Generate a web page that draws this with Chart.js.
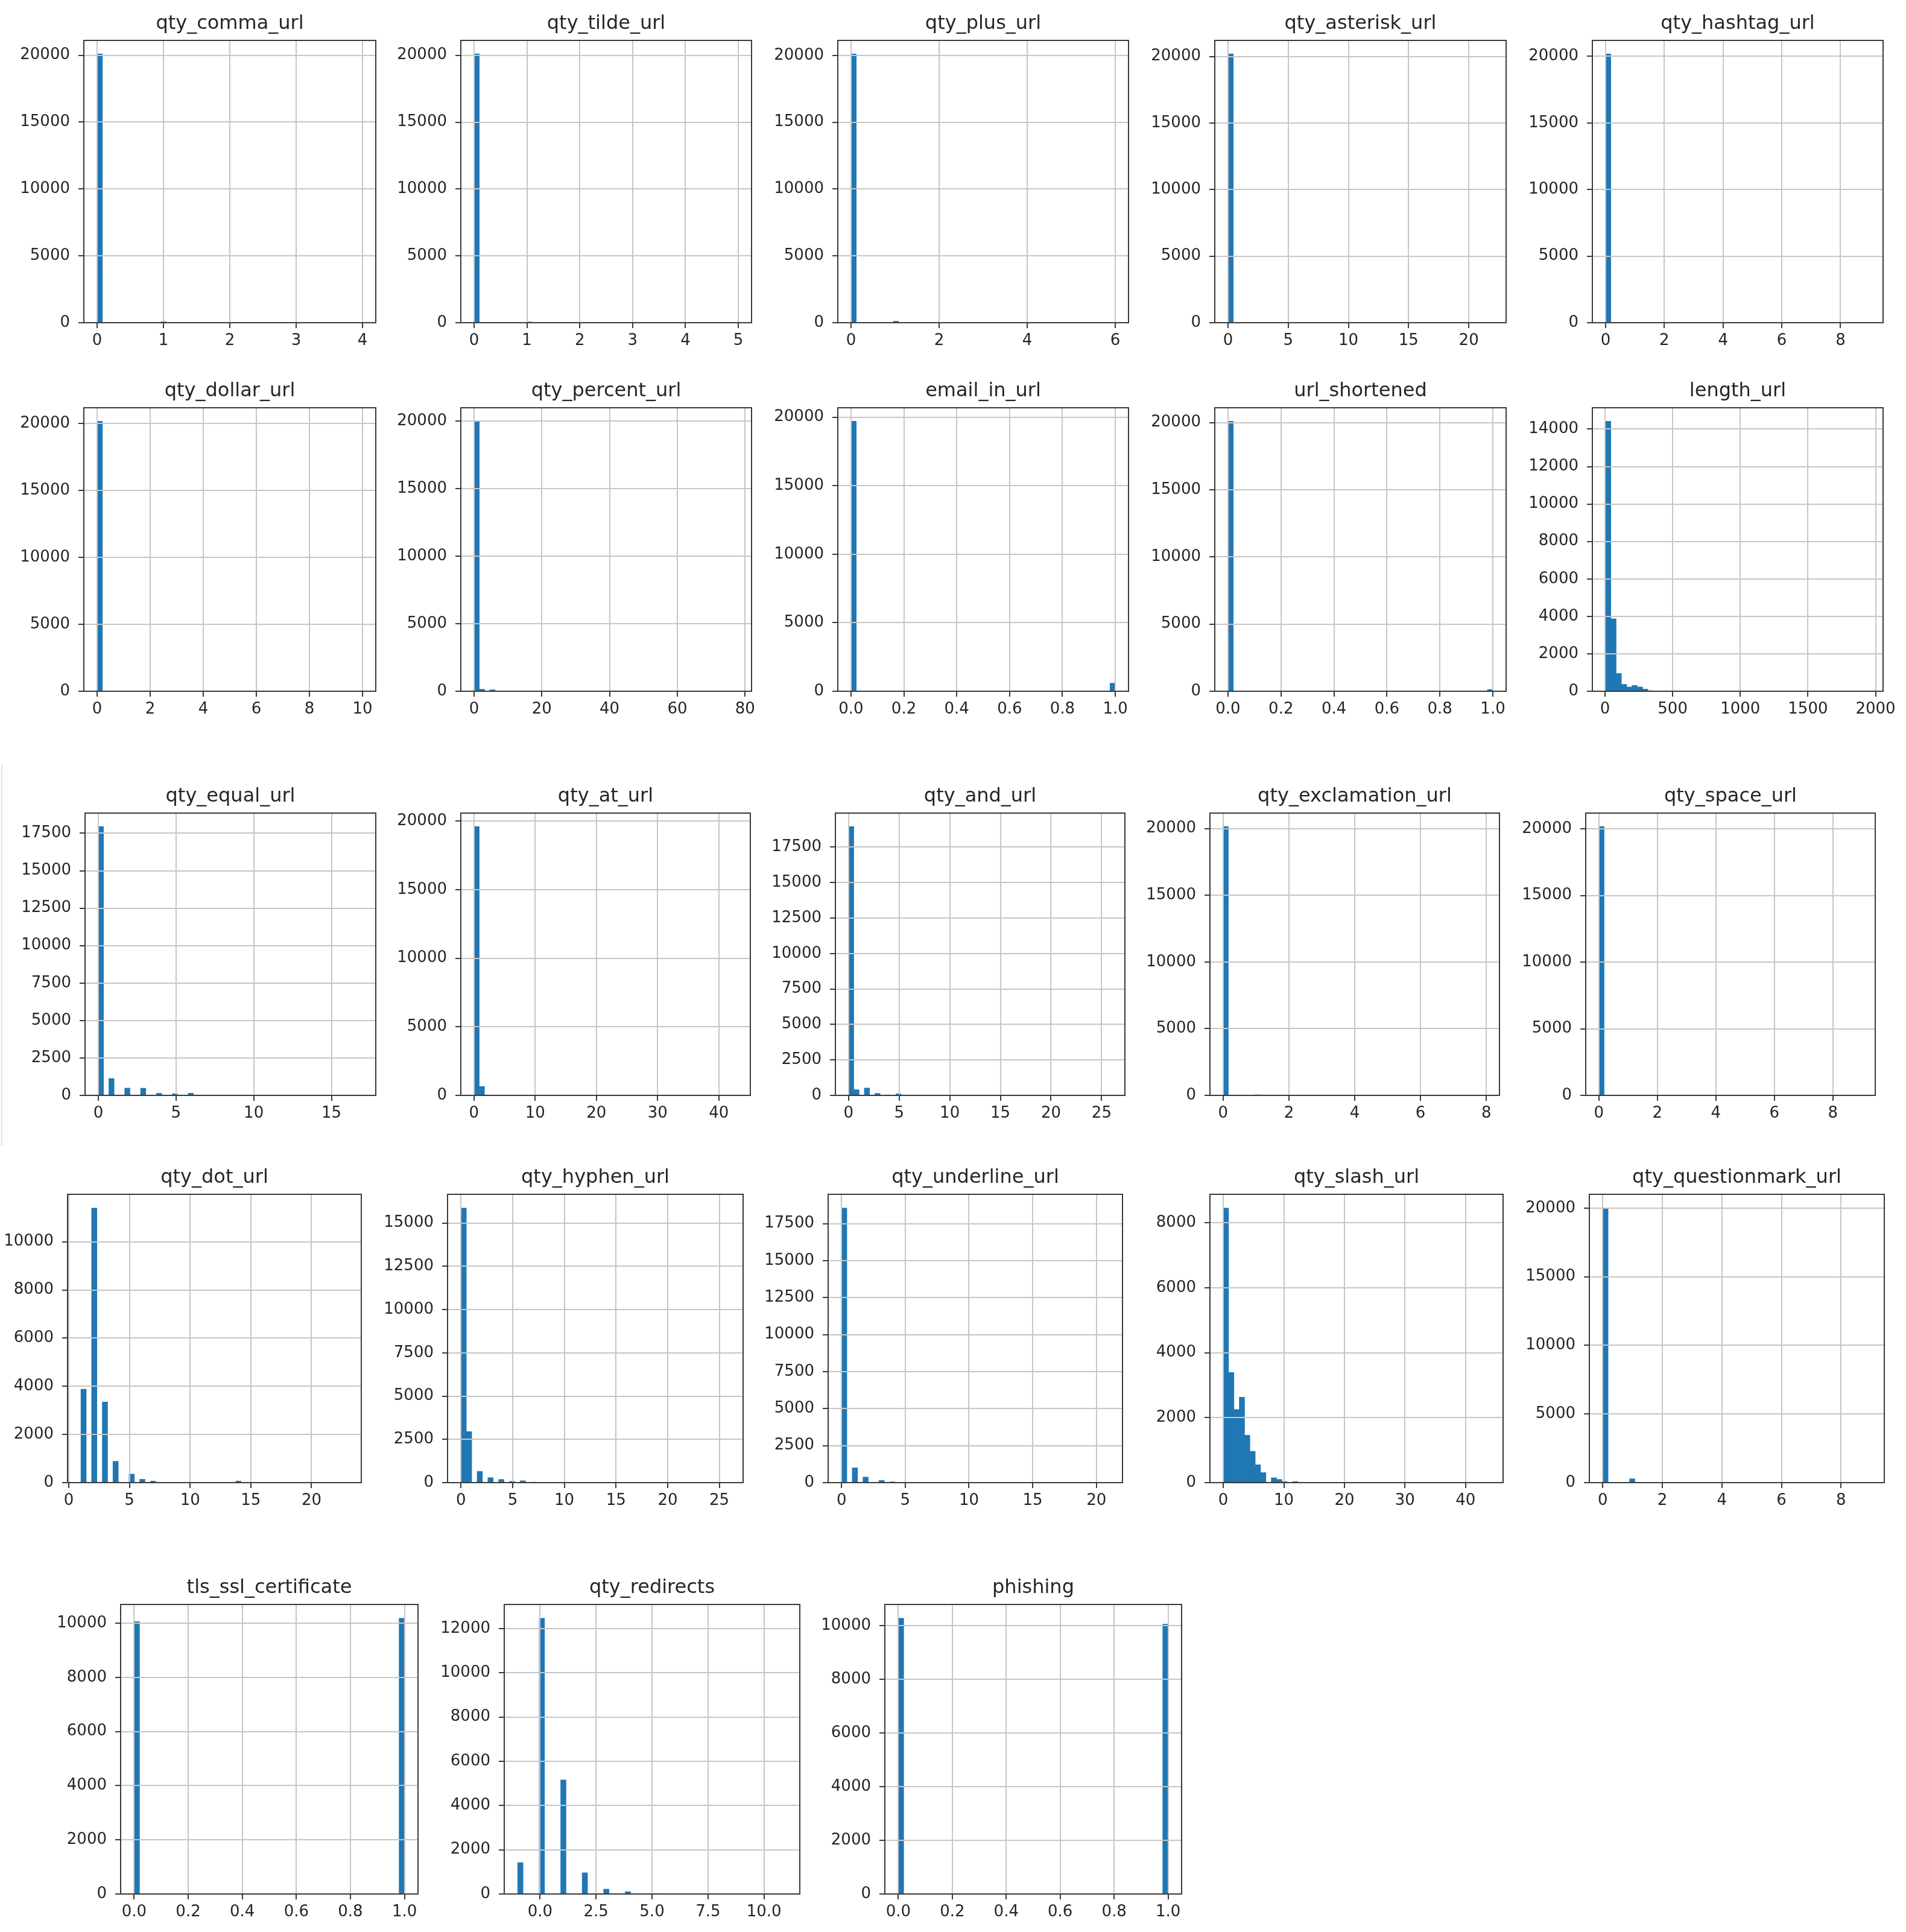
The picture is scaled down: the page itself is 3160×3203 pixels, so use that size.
<!DOCTYPE html>
<html>
<head>
<meta charset="utf-8">
<script src="https://cdn.jsdelivr.net/npm/chart.js@4.4.1/dist/chart.umd.min.js"></script>
<style>
html,body{margin:0;padding:0;background:#fff;}
#page{position:relative;width:3160px;height:3203px;background:#fff;overflow:hidden;}
#page canvas{position:absolute;}
.edge{position:absolute;background:#e2e2e2;}
</style>
</head>
<body>
<div id="page"><div class="edge" style="left:2px;top:1268px;width:2px;height:632px;"></div></div>
<script>
// ---------- DATA ----------
const titles = [
  'qty_comma_url','qty_tilde_url','qty_plus_url','qty_asterisk_url','qty_hashtag_url',
  'qty_dollar_url','qty_percent_url','email_in_url','url_shortened','length_url',
  'qty_equal_url','qty_at_url','qty_and_url','qty_exclamation_url','qty_space_url',
  'qty_dot_url','qty_hyphen_url','qty_underline_url','qty_slash_url','qty_questionmark_url',
  'tls_ssl_certificate','qty_redirects','phishing'
];
// data range (min, max) of each variable -> 50 equal histogram bins
const binMin = [0,0,0,0,0, 0,0,0,0,4, 0,0,0,0,0, 1,0,0,0,0, 0,-1,0];
const binMax = [4,5,6,22,9, 10,78,1,1,1958, 17,43,26,8,9, 23,26,21,44,9, 1,11,1];

// bin counts (50 bins each)
const countsComma = [20100,0,0,0,0,0,0,0,0,0, 0,0,95,0,0,0,0,0,0,0, 0,0,0,0,0,12,0,0,0,0, 0,0,0,0,0,0,0,4,0,0, 0,0,0,0,0,0,0,0,0,2];
const countsTilde = [20110,0,0,0,0,0,0,0,0,0, 75,0,0,0,0,0,0,0,0,0, 8,0,0,0,0,0,0,0,0,0, 3,0,0,0,0,0,0,0,0,0, 1,0,0,0,0,0,0,0,0,1];
const countsPlus = [20120,0,0,0,0,0,0,0,110,0, 0,0,0,0,0,0,20,0,0,0, 0,0,0,0,0,6,0,0,0,0, 0,0,0,3,0,0,0,0,0,0, 0,1,0,0,0,0,0,0,0,1];
const countsAsterisk = [20200,0,25,0,6,0,2,0,0,0, 0,0,0,0,0,0,0,0,0,0, 0,0,0,0,0,0,0,0,0,0, 0,0,0,0,0,0,0,0,0,0, 0,0,0,0,0,0,0,0,0,1];
const countsHashtag = [20190,0,0,0,0,40,0,0,0,0, 0,5,0,0,0,0,0,0,0,0, 0,0,0,0,0,0,0,0,0,0, 0,0,0,0,0,0,0,0,0,0, 0,0,0,0,0,0,0,0,0,1];
const countsDollar = [20180,0,0,0,0,45,0,0,0,0, 8,0,0,0,0,0,0,0,0,0, 0,0,0,0,0,0,0,0,0,0, 0,0,0,0,0,0,0,0,0,0, 0,0,0,0,0,0,0,0,0,1];
const countsPercent = [19980,150,30,110,35,20,15,10,6,5, 4,3,3,2,2,1,1,1,0,1, 0,1,0,0,1,0,0,0,0,0, 0,0,0,0,0,0,0,0,0,0, 0,0,0,0,0,0,0,0,0,1];
const countsEmail = [19700,0,0,0,0,0,0,0,0,0, 0,0,0,0,0,0,0,0,0,0, 0,0,0,0,0,0,0,0,0,0, 0,0,0,0,0,0,0,0,0,0, 0,0,0,0,0,0,0,0,0,590];
const countsShortened = [20100,0,0,0,0,0,0,0,0,0, 0,0,0,0,0,0,0,0,0,0, 0,0,0,0,0,0,0,0,0,0, 0,0,0,0,0,0,0,0,0,0, 0,0,0,0,0,0,0,0,0,130];
const countsLength = [14420,3870,950,370,230,310,230,115,40,20, 12,8,6,5,4,3,3,2,2,2, 1,1,1,1,1,1,0,1,0,0, 1,0,0,0,0,0,1,0,0,0, 0,0,0,0,0,0,0,0,0,1];
const countsEqual = [17950,0,1130,0,0,490,0,0,480,0, 0,140,0,0,110,0,0,150,0,0, 40,0,0,20,0,0,12,0,0,8, 0,0,5,0,0,3,0,0,2,0, 0,1,0,0,1,0,0,1,0,1];
const countsAt = [19600,650,40,10,5,0,0,0,0,0, 0,0,0,0,0,0,0,0,0,0, 0,0,0,0,0,0,0,0,0,0, 0,0,0,0,0,0,0,0,0,0, 0,0,0,0,0,0,0,0,0,1];
const countsAnd = [18950,400,0,520,0,140,0,50,0,110, 0,30,0,20,0,15,0,10,0,8, 0,5,0,4,0,3,2,0,2,0, 1,0,0,0,1,0,0,0,0,0, 0,0,0,0,0,0,0,0,0,1];
const countsExclamation = [20150,0,0,0,0,0,60,0,0,0, 0,0,10,0,0,0,0,0,3,0, 0,0,0,0,0,0,0,0,0,0, 0,0,0,0,0,0,0,0,0,0, 0,0,0,0,0,0,0,0,0,1];
const countsSpace = [20180,0,0,0,0,40,0,0,0,0, 0,5,0,0,0,0,0,0,0,0, 0,0,0,0,0,0,0,0,0,0, 0,0,0,0,0,0,0,0,0,0, 0,0,0,0,0,0,0,0,0,1];
const countsDot = [3880,0,11400,0,3350,0,885,0,0,355, 0,140,0,75,0,20,0,0,15,0, 10,0,8,0,0,10,0,15,0,75, 0,10,0,0,5,0,4,0,3,0, 2,0,0,2,0,1,0,1,0,1];
const countsHyphen = [15870,2950,0,650,0,290,0,185,0,90, 0,110,0,40,0,25,0,15,0,10, 0,8,0,6,0,5,4,0,3,0, 2,0,2,0,1,0,1,0,0,0, 0,0,0,0,0,0,0,0,0,1];
const countsUnderline = [18550,0,1000,0,380,0,0,150,0,70, 0,40,0,0,20,0,10,0,0,6, 0,4,0,3,0,0,2,0,1,0, 0,0,0,0,0,0,0,0,0,0, 0,0,0,0,0,0,0,0,0,1];
const countsSlash = [8450,3390,2250,2630,1460,965,550,310,0,150, 100,40,10,40,15,10,0,8,6,4, 3,3,2,2,0,2,1,1,1,0, 1,0,1,0,0,1,0,0,0,0, 0,0,0,0,0,0,0,0,0,1];
const countsQuestion = [20000,0,0,0,0,280,0,0,0,0, 0,15,0,0,0,0,3,0,0,0, 0,0,0,0,0,0,0,0,0,0, 0,0,0,0,0,0,0,0,0,0, 0,0,0,0,0,0,0,0,0,1];
const countsTls = [10060,0,0,0,0,0,0,0,0,0, 0,0,0,0,0,0,0,0,0,0, 0,0,0,0,0,0,0,0,0,0, 0,0,0,0,0,0,0,0,0,0, 0,0,0,0,0,0,0,0,0,10180];
const countsRedirects = [1420,0,0,0,12470,0,0,0,5160,0, 0,0,960,0,0,0,220,0,0,0, 105,0,0,0,0,30,0,0,0,15, 0,0,0,8,0,0,0,5,0,0, 0,3,0,0,0,2,0,0,0,1];
const countsPhishing = [10270,0,0,0,0,0,0,0,0,0, 0,0,0,0,0,0,0,0,0,0, 0,0,0,0,0,0,0,0,0,0, 0,0,0,0,0,0,0,0,0,0, 0,0,0,0,0,0,0,0,0,10050];

const allCounts = [countsComma,countsTilde,countsPlus,countsAsterisk,countsHashtag,
  countsDollar,countsPercent,countsEmail,countsShortened,countsLength,
  countsEqual,countsAt,countsAnd,countsExclamation,countsSpace,
  countsDot,countsHyphen,countsUnderline,countsSlash,countsQuestion,
  countsTls,countsRedirects,countsPhishing];

// tick labels
const yt20k = ['0','5000','10000','15000','20000'];
const yt17k = ['0','2500','5000','7500','10000','12500','15000','17500'];
const yt10k = ['0','2000','4000','6000','8000','10000'];
const yTickLabels = [
  yt20k,yt20k,yt20k,yt20k,yt20k,
  yt20k,yt20k,yt20k,yt20k,['0','2000','4000','6000','8000','10000','12000','14000'],
  yt17k,yt20k,yt17k,yt20k,yt20k,
  yt10k,['0','2500','5000','7500','10000','12500','15000'],yt17k,['0','2000','4000','6000','8000'],yt20k,
  yt10k,['0','2000','4000','6000','8000','10000','12000'],yt10k
];
const xt01 = ['0.0','0.2','0.4','0.6','0.8','1.0'];
const xTickLabels = [
  ['0','1','2','3','4'],['0','1','2','3','4','5'],['0','2','4','6'],['0','5','10','15','20'],['0','2','4','6','8'],
  ['0','2','4','6','8','10'],['0','20','40','60','80'],xt01,xt01,['0','500','1000','1500','2000'],
  ['0','5','10','15'],['0','10','20','30','40'],['0','5','10','15','20','25'],['0','2','4','6','8'],['0','2','4','6','8'],
  ['0','5','10','15','20'],['0','5','10','15','20','25'],['0','5','10','15','20'],['0','10','20','30','40'],['0','2','4','6','8'],
  xt01,['0.0','2.5','5.0','7.5','10.0'],xt01
];

// ---------- LAYOUT (axes boxes in page pixels: left, top, right, bottom) ----------
const rowTB = [[67,535],[676,1146],[1348,1816],[1980,2458],[2660,3140]];
const rowLR = [
  [[139,623],[764,1246],[1389,1871],[2014,2497],[2640,3122]],
  [[139,623],[764,1246],[1389,1871],[2014,2497],[2640,3122]],
  [[141,623],[764,1244],[1385,1865],[2006,2486],[2629,3109]],
  [[112,599],[742,1232],[1373,1861],[2006,2492],[2635,3124]],
  [[200,693],[836,1326],[1467,1959]]
];

Chart.defaults.font.family = "'DejaVu Sans', sans-serif";
Chart.defaults.color = '#262626';

const frame = {
  id: 'frame',
  afterDraw(chart) {
    const a = chart.chartArea, ctx = chart.ctx;
    ctx.save();
    ctx.strokeStyle = '#3a3a3a';
    ctx.lineWidth = 2;
    ctx.strokeRect(a.left, a.top, a.right - a.left, a.bottom - a.top);
    ctx.restore();
  }
};

const page = document.getElementById('page');
const L = 120, R = 60, T = 47, B = 60;
const TICK_FONT = 26, TITLE_FONT = 32;

let idx = 0;
rowLR.forEach((cols, r) => {
  cols.forEach(([left, right]) => {
    const i = idx++;
    const [top, bottom] = rowTB[r];
    const cv = document.createElement('canvas');
    cv.width = (right - left) + L + R;
    cv.height = (bottom - top) + T + B;
    cv.style.left = (left - L) + 'px';
    cv.style.top = (top - T) + 'px';
    page.appendChild(cv);

    const counts = allCounts[i];
    const lo = binMin[i], hi = binMax[i];
    const span = hi - lo;
    const bw = span / counts.length;
    const points = counts.map((c, k) => ({ x: lo + (k + 0.5) * bw, y: c === 0 ? null : c }));
    const ymax = Math.max(...counts) * 1.05;
    const xl = xTickLabels[i], yl = yTickLabels[i];

    new Chart(cv, {
      type: 'bar',
      data: { datasets: [{
        data: points,
        backgroundColor: '#1f77b4',
        borderWidth: 0,
        inflateAmount: c => (c.raw && c.raw.y >= 100) ? 0.33 : 0,
        categoryPercentage: 1,
        barPercentage: 1
      }]},
      options: {
        responsive: false,
        animation: false,
        devicePixelRatio: 1,
        layout: { padding: { left: 0, right: R, top: 0, bottom: 0 } },
        plugins: {
          legend: { display: false },
          tooltip: { enabled: false },
          title: {
            display: true, text: titles[i], fullSize: false,
            color: '#262626',
            font: { size: TITLE_FONT, weight: 'normal', lineHeight: 1.25 },
            padding: { top: 0, bottom: 7 }
          }
        },
        scales: {
          x: {
            type: 'linear',
            min: lo - 0.05 * span,
            max: hi + 0.05 * span,
            offset: false,
            afterBuildTicks: s => {
              s.ticks = xl.map(t => ({ value: parseFloat(t), lbl: t }))
                .filter(t => t.value >= s.min - 1e-9 && t.value <= s.max + 1e-9);
            },
            afterFit: s => { s.height = B; },
            grid: { offset: false, color: '#c6c6c6', lineWidth: 2, z: 1, drawTicks: true,
                    tickLength: 9, tickColor: '#3a3a3a', tickWidth: 2 },
            border: { display: false },
            ticks: { autoSkip: false, maxRotation: 0, minRotation: 0, padding: 6,
                     color: '#262626', font: { size: TICK_FONT },
                     callback: (v, k, tk) => tk[k].lbl }
          },
          y: {
            type: 'linear',
            min: 0,
            max: ymax,
            afterBuildTicks: s => {
              s.ticks = yl.map(t => ({ value: parseFloat(t), lbl: t }))
                .filter(t => t.value >= s.min - 1e-9 && t.value <= s.max + 1e-9);
            },
            afterFit: s => { s.width = L; },
            grid: { color: '#c6c6c6', lineWidth: 2, z: 1, drawTicks: true,
                    tickLength: 9, tickColor: '#3a3a3a', tickWidth: 2 },
            border: { display: false },
            ticks: { autoSkip: false, padding: 14, color: '#262626', font: { size: TICK_FONT },
                     callback: (v, k, tk) => tk[k].lbl }
          }
        }
      },
      plugins: [frame]
    });
  });
});
</script>
</body>
</html>
